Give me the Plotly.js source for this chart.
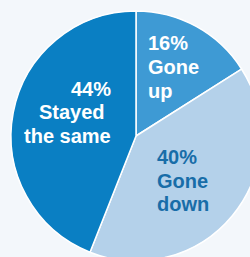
<!DOCTYPE html>
<html>
<head>
<meta charset="utf-8">
<script src="https://cdn.plot.ly/plotly-3.0.1.min.js"></script>
<style>
html, body { margin: 0; padding: 0; overflow: hidden; background: #f3f7fb; width: 250px; height: 257px; }
#chart { width: 272px; height: 272px; }
</style>
</head>
<body>
<div id="chart"></div>
<script>
// Data
const categories = ['Gone up', 'Gone down', 'Stayed the same'];
const values = [16, 40, 44];
const labelLines = [['Gone', 'up'], ['Gone', 'down'], ['Stayed', 'the same']];

// Styles
const sliceColors = ['#3e9ad4', '#b4d1ea', '#0a7fc3'];
const textColors = ['#ffffff', '#186da8', '#ffffff'];
const S = 272; // layout size in px
// per-slice label layout: [x px, anchor, line center y px list, per-line x override]
const labelPos = [
  { x: [146, 146, 146], anchor: 'left', y: [43, 67, 90.5] },
  { x: [155, 155, 155], anchor: 'left', y: [157, 181, 204] },
  { x: [113, 106.5, 113], anchor: 'right', y: [89, 112, 135.5] }
];

const annotations = [];
categories.forEach((c, i) => {
  const lines = [values[i] + '%'].concat(labelLines[i]);
  lines.forEach((t, j) => {
    annotations.push({
      xref: 'paper', yref: 'paper',
      x: labelPos[i].x[j] / S, y: 1 - labelPos[i].y[j] / S,
      xanchor: labelPos[i].anchor, yanchor: 'middle',
      text: t, showarrow: false,
      font: { family: '"Liberation Sans", Arial, sans-serif', size: 20, weight: 700, color: textColors[i] }
    });
  });
});

const trace = {
  type: 'pie',
  labels: categories,
  values: values,
  sort: false,
  direction: 'clockwise',
  rotation: 0,
  textinfo: 'none',
  hoverinfo: 'none',
  marker: { colors: sliceColors, line: { color: '#ffffff', width: 1.5 } },
  domain: { x: [11 / S, 261 / S], y: [11 / S, 261 / S] },
  showlegend: false
};

Plotly.newPlot('chart', [trace], {
  width: S, height: S,
  margin: { l: 0, r: 0, t: 0, b: 0, pad: 0 },
  paper_bgcolor: '#f3f7fb',
  plot_bgcolor: '#f3f7fb',
  showlegend: false,
  annotations: annotations
}, { staticPlot: true, displayModeBar: false });
</script>
</body>
</html>
